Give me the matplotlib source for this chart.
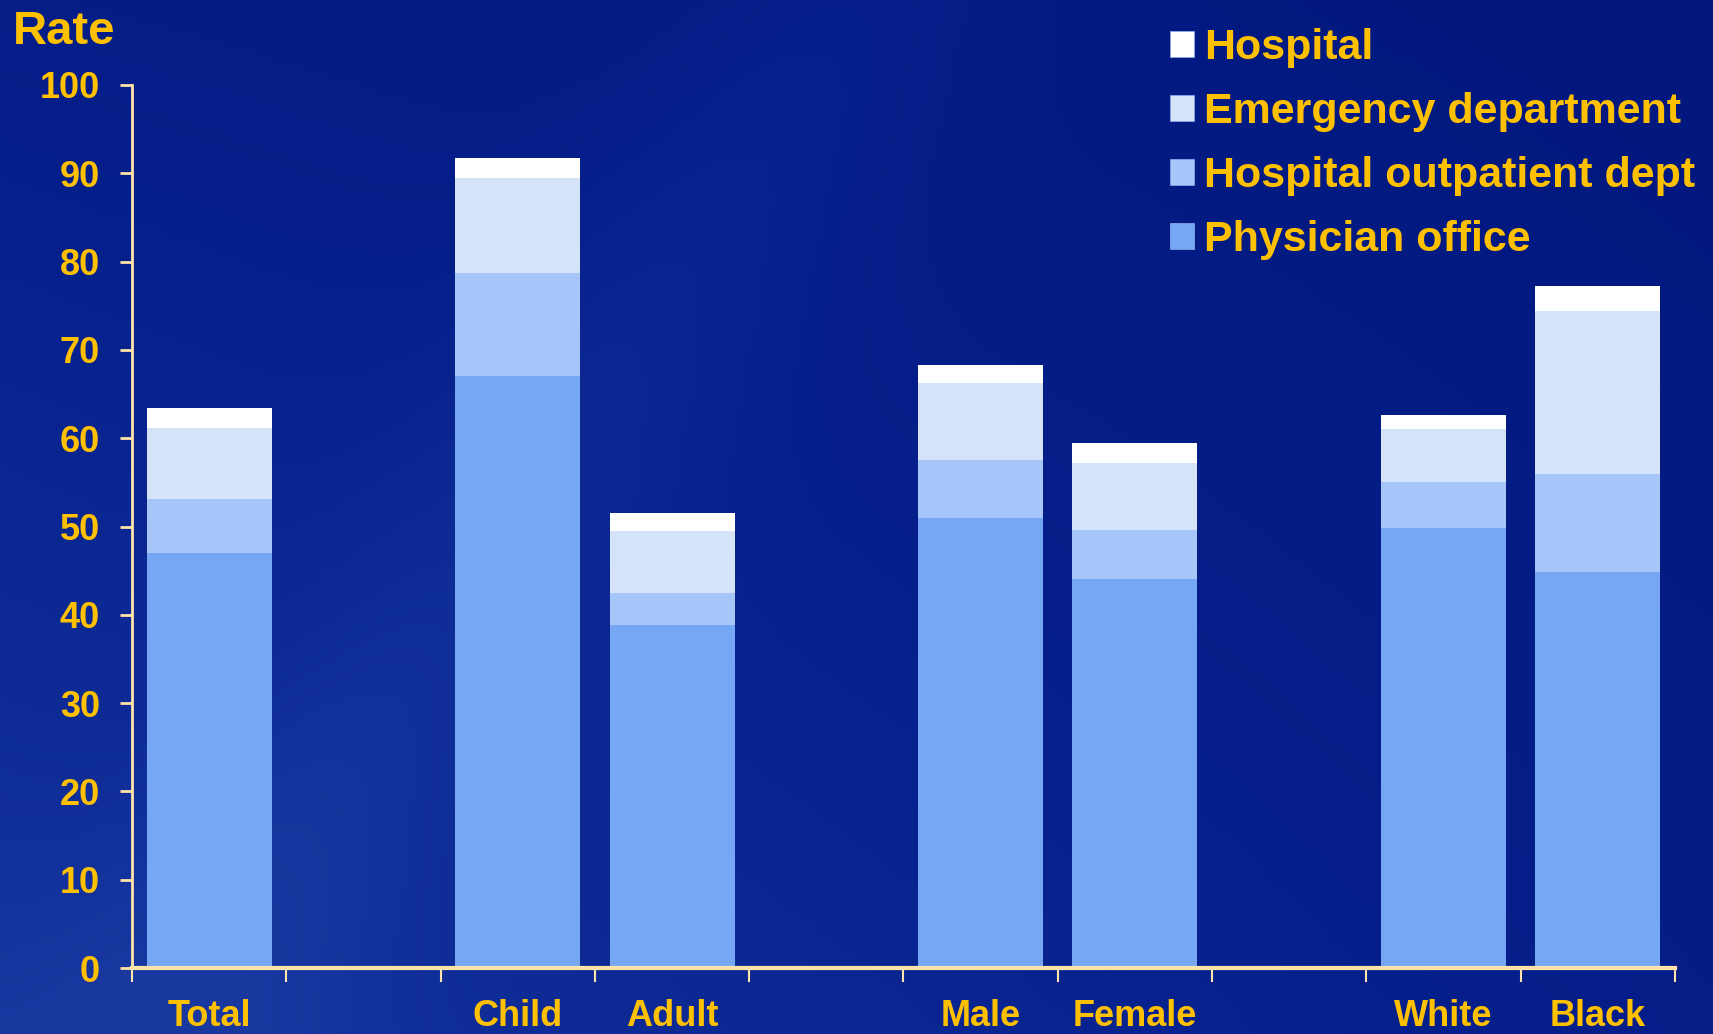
import numpy as np
import matplotlib
matplotlib.use("Agg")
import matplotlib.pyplot as plt
from matplotlib.colors import LinearSegmentedColormap
from matplotlib.patches import Patch

# data
categories = ["Total", "", "Child", "Adult", "", "Male", "Female", "", "White", "Black"]
physician = [47.0, 0, 67.0, 38.9, 0, 51.0, 44.1, 0, 49.8, 44.8]
outpatient = [6.1, 0, 11.7, 3.6, 0, 6.5, 5.5, 0, 5.2, 11.1]
emergency = [8.0, 0, 10.8, 7.0, 0, 8.7, 7.6, 0, 6.0, 18.5]
hospital = [2.3, 0, 2.2, 2.0, 0, 2.1, 2.3, 0, 1.6, 2.8]
series_names = ["Physician office", "Hospital outpatient dept", "Emergency department", "Hospital"]
series_colors = ["#76A7F5", "#A6C6F9", "#D5E3F9", "#FFFFFF"]
yticks = [0, 10, 20, 30, 40, 50, 60, 70, 80, 90, 100]

gold = "#FFC000"
axcol = "#FFE3A8"
plt.rcParams['font.family'] = ['Liberation Sans', 'DejaVu Sans']

fig = plt.figure(figsize=(17.13, 10.34), dpi=100)

# background gradient
bg = fig.add_axes([0, 0, 1, 1], zorder=-10)
yy, xx = np.mgrid[0:1:200j, 0:1:300j]
g = 0.35 + 0.35 * (1 - xx) * yy - 0.15 * xx * (1 - yy) + 0.12 * np.exp(-((xx - 0.4 * (1 - yy) - 0.1) ** 2) / 0.01)
cmap = LinearSegmentedColormap.from_list("bgc", ["#001478", "#06208C", "#1838A0"])
bg.imshow(g, cmap=cmap, aspect="auto", extent=[0, 1, 0, 1], origin="upper", vmin=0.1, vmax=0.75)
bg.axis("off")

ax = fig.add_axes([132 / 1713, 1 - 968 / 1034, (1675 - 132) / 1713, (968 - 85) / 1034])
ax.patch.set_alpha(0)

x = np.arange(len(categories))
bottom = np.zeros(len(categories))
for vals, name, col in zip([physician, outpatient, emergency, hospital], series_names, series_colors):
    ax.bar(x, vals, width=0.81, bottom=bottom, color=col, edgecolor="none", label=name)
    bottom += np.array(vals)

ax.set_xlim(-0.5, len(categories) - 0.5)
ax.set_ylim(0, 100)
ax.set_yticks(yticks)
ax.set_yticklabels([str(t) for t in yticks], fontsize=26, fontweight="bold", color=gold)
ax.tick_params(axis="y", length=9, width=2, color=axcol, pad=14)

ax.set_xticks(np.arange(-0.5, len(categories), 1.0))
ax.set_xticklabels([])
ax.set_xticks(x, minor=True)
ax.set_xticklabels(categories, minor=True, fontsize=26, fontweight="bold", color=gold,
                   family=['Liberation Sans Narrow', 'Liberation Sans'])
ax.tick_params(axis="x", which="major", length=10, width=1.5, color=axcol, direction="out")
ax.tick_params(axis="x", which="minor", length=0, pad=22)

for s in ["top", "right"]:
    ax.spines[s].set_visible(False)
ax.spines["left"].set_color(axcol)
ax.spines["left"].set_linewidth(2)
ax.spines["bottom"].set_color(axcol)
ax.spines["bottom"].set_linewidth(3)

fig.text(13 / 1713, 1 - 44 / 1034, "Rate", fontsize=34, fontweight="bold", color=gold)

handles = [Patch(facecolor=c, edgecolor="#8FB0F0", linewidth=0.5) for c in series_colors][::-1]
leg = fig.legend(handles, series_names[::-1], loc="upper left",
                 bbox_to_anchor=(1170 / 1713, 1 - 28 / 1034), frameon=False,
                 borderpad=0, borderaxespad=0,
                 prop={"size": 31, "weight": "bold"}, labelcolor=gold,
                 handlelength=0.55, handleheight=0.55, handletextpad=0.25, labelspacing=0.56)

fig.savefig("out.png", dpi=100)
